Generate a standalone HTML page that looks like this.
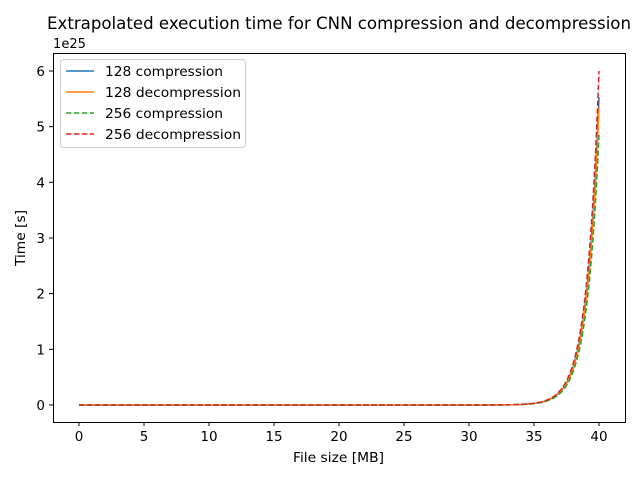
<!DOCTYPE html>
<html><head><meta charset="utf-8"><style>
body{margin:0;background:#fff}
svg text{font-family:"DejaVu Sans","Liberation Sans",sans-serif;fill:#000}
</style></head><body>
<svg id="s" width="640" height="480" xmlns="http://www.w3.org/2000/svg">
<rect width="640" height="480" fill="#fff"/>
<text x="47" y="29" font-size="16.5" textLength="584" lengthAdjust="spacingAndGlyphs">Extrapolated execution time for CNN compression and decompression</text>
<text x="53" y="48" font-size="13" textLength="33" lengthAdjust="spacingAndGlyphs">1e25</text>
<g id="curves"></g>
<rect x="53.5" y="53.5" width="572" height="369" fill="none" stroke="#000" stroke-width="1"/>
<g font-size="13.5" text-anchor="middle" stroke-width="1">
<g id="xt"></g><g id="yt"></g>
</g>
<text x="293" y="462" font-size="13.5" textLength="91" lengthAdjust="spacingAndGlyphs">File size [MB]</text>
<text transform="translate(25,266) rotate(-90)" font-size="13.5" textLength="56" lengthAdjust="spacingAndGlyphs">Time [s]</text>
<g font-size="13.5">
<rect x="60.5" y="59.5" width="185" height="88" rx="3" fill="#fff" fill-opacity="0.8" stroke="#ccc"/>
<line x1="66" y1="71" x2="94" y2="71" stroke="#1f77b4" stroke-width="1.5"/>
<text x="105" y="76" textLength="118" lengthAdjust="spacingAndGlyphs">128 compression</text>
<line x1="66" y1="92" x2="94" y2="92" stroke="#ff7f0e" stroke-width="1.5"/>
<text x="105" y="97" textLength="136" lengthAdjust="spacingAndGlyphs">128 decompression</text>
<line x1="66" y1="113" x2="94" y2="113" stroke="#2ca02c" stroke-width="1.5" stroke-dasharray="5.5,2.4"/>
<text x="105" y="118" textLength="118" lengthAdjust="spacingAndGlyphs">256 compression</text>
<line x1="66" y1="134" x2="94" y2="134" stroke="#d62728" stroke-width="1.5" stroke-dasharray="5.5,2.4"/>
<text x="105" y="139" textLength="136" lengthAdjust="spacingAndGlyphs">256 decompression</text>
</g>
</svg>
<script>
function X(v){return 79+v*13}
function Y(v){return 405-v*55.67}
var xt=document.getElementById('xt'),yt=document.getElementById('yt');
for(var i=0;i<=40;i+=5){var x=X(i);
xt.innerHTML+='<line x1="'+x+'" y1="422" x2="'+x+'" y2="426" stroke="#000"/><text x="'+x+'" y="441">'+i+'</text>';}
for(var j=0;j<=6;j++){var y=Y(j);
yt.innerHTML+='<line x1="49" y1="'+y+'" x2="53" y2="'+y+'" stroke="#000"/><text x="45" y="'+(y+5)+'" text-anchor="end">'+j+'</text>';}
var series=[[5.53,'#1f77b4',''],[5.35,'#ff7f0e',''],[4.85,'#2ca02c','5.5,2.4'],[6.0,'#d62728','5.5,2.4']];
var g=document.getElementById('curves');
series.forEach(function(s){var d='';
for(var k=0;k<=400;k++){var v=k/10;var val=s[0]*Math.exp(1.05*(v-40));d+=(k?'L':'M')+X(v).toFixed(2)+','+Y(val).toFixed(2);}
g.innerHTML+='<path d="'+d+'" fill="none" stroke="'+s[1]+'" stroke-width="1.5"'+(s[2]?' stroke-dasharray="'+s[2]+'"':'')+'/>';});
</script>
</body></html>
